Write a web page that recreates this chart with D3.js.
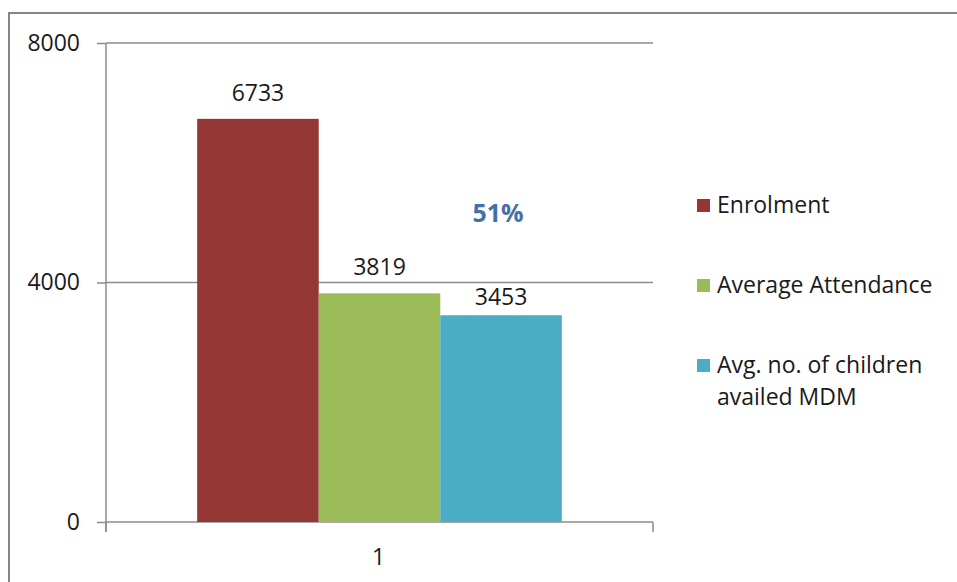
<!DOCTYPE html>
<html>
<head>
<meta charset="utf-8">
<script src="https://cdn.jsdelivr.net/npm/d3@7"></script>
<style>
  html, body { margin: 0; padding: 0; background: #fff; }
  svg { display: block; }
  text { font-family: "Open Sans", Lato, sans-serif; fill: #1a1a1a; }
</style>
</head>
<body>
<svg id="chart" width="957" height="582"></svg>
<script>
// Mid-day meal summary
const categories = ["1"];
const seriesNames = ["Enrolment", "Average Attendance", "Avg. no. of children availed MDM"];
const seriesValues = [6733, 3819, 3453];
const seriesColors = ["#953735", "#9BBB59", "#4BACC6"];
const yTicks = [0, 4000, 8000];
const note = "51%";

const FONT = "'Open Sans', Lato, sans-serif";
const FS = "23px";
const svg = d3.select("#chart");
const W = 957, H = 582;
const plot = { left: 106, right: 653, top: 43, bottom: 522 };

// outer chart frame (right and bottom run off the canvas)
svg.append("rect")
  .attr("x", 9).attr("y", 13)
  .attr("width", W + 20).attr("height", H + 20)
  .attr("fill", "none").attr("stroke", "#868686").attr("stroke-width", 2);

const y = d3.scaleLinear().domain([0, 8000]).range([plot.bottom, plot.top]);
const x = d3.scaleBand().domain(categories).range([plot.left, plot.right])
  .paddingInner(0).paddingOuter(0);
// bars fill 3 of 4.5 bar-widths per category (150% gap width)
const groupWidth = x.bandwidth() * 3 / 4.5;
const xs = d3.scaleBand().domain(seriesNames).range([0, groupWidth]);

// gridlines
svg.append("g")
  .selectAll("line")
  .data(yTicks)
  .join("line")
  .attr("x1", plot.left).attr("x2", plot.right)
  .attr("y1", d => y(d)).attr("y2", d => y(d))
  .attr("stroke", "#8c8c8c").attr("stroke-width", 1.5);

// y axis
const yAxis = d3.axisLeft(y).tickValues(yTicks).tickFormat(d3.format("d"))
  .tickSize(9).tickPadding(17);
const gy = svg.append("g").attr("transform", `translate(${plot.left},0)`).call(yAxis);
gy.select(".domain").attr("stroke", "#8c8c8c").attr("stroke-width", 1.5)
  .attr("d", `M0,${plot.top}V${plot.bottom + 10}`);
gy.selectAll(".tick line").attr("stroke", "#8c8c8c").attr("stroke-width", 1.5);
gy.selectAll(".tick text").style("font-size", FS).attr("fill", "#1a1a1a")
  .style("font-family", FONT);

// x axis: boundary ticks at the band edges
svg.append("g").selectAll("line")
  .data([plot.left, plot.right])
  .join("line")
  .attr("x1", d => d).attr("x2", d => d)
  .attr("y1", plot.bottom).attr("y2", plot.bottom + 10)
  .attr("stroke", "#8c8c8c").attr("stroke-width", 1.5);
svg.append("g").selectAll("text")
  .data(categories)
  .join("text")
  .attr("x", d => x(d) + x.bandwidth() / 2 - 1)
  .attr("y", 565)
  .attr("text-anchor", "middle")
  .style("font-size", FS)
  .text(d => d);

// bars
const groupLeft = x(categories[0]) + (x.bandwidth() - groupWidth) / 2;
const bars = seriesNames.map((name, i) => ({ name, value: seriesValues[i], color: seriesColors[i] }));
svg.append("g").selectAll("rect")
  .data(bars)
  .join("rect")
  .attr("x", d => groupLeft + xs(d.name))
  .attr("width", xs.bandwidth())
  .attr("y", d => y(d.value))
  .attr("height", d => y(0) - y(d.value))
  .attr("fill", d => d.color);

// value labels (last one nudged down to clear the 4000 gridline)
const labelGap = [18, 18, 10];
svg.append("g").selectAll("text")
  .data(bars)
  .join("text")
  .attr("x", d => groupLeft + xs(d.name) + xs.bandwidth() / 2)
  .attr("y", (d, i) => y(d.value) - labelGap[i])
  .attr("text-anchor", "middle")
  .style("font-size", FS)
  .text(d => d.value);

// share note
svg.append("text")
  .attr("x", 498).attr("y", 222)
  .attr("text-anchor", "middle")
  .style("font-size", "25px").style("font-weight", "bold")
  .style("fill", "#4470A8")
  .text(note);

// legend
const legendRows = [
  { lines: [seriesNames[0]], y: 213 },
  { lines: [seriesNames[1]], y: 293 },
  { lines: ["Avg. no. of children", "availed MDM"], y: 373 }
];
const lg = svg.append("g");
legendRows.forEach((row, i) => {
  lg.append("rect")
    .attr("x", 697).attr("y", row.y - 14)
    .attr("width", 13).attr("height", 13)
    .attr("fill", seriesColors[i]);
  const t = lg.append("text").attr("x", 717).attr("y", row.y).style("font-size", FS);
  row.lines.forEach((ln, k) => {
    t.append("tspan").attr("x", 717).attr("dy", k === 0 ? 0 : 32).text(ln);
  });
});
</script>
</body>
</html>
